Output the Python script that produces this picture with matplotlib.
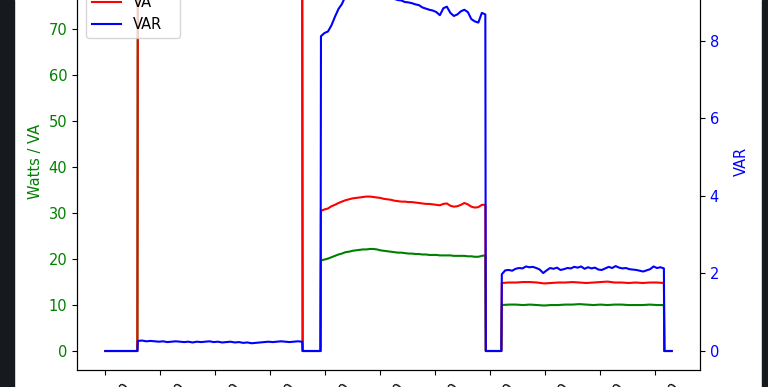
#!/usr/bin/env python
# -*- coding: utf-8 -*-

#...for the plotting.
import matplotlib.pyplot as plt
import matplotlib.dates as mdates
from matplotlib.patches import Rectangle
from matplotlib.ticker import MultipleLocator

#...for the MATH.
import numpy as np

plt.rcParams['font.size'] = 10.5

## Start of the logging run.
t_start = np.datetime64('2024-01-01T14:00:00')

## Segment boundaries (seconds since the start of the run).
seg_starts = [0, 71, 431, 471, 831, 866, 1221]
seg_stops = [70, 430, 470, 830, 865, 1220, 1237]

## Readings with nothing plugged in.
idle = [0.0, 0.0]

## Load A (first device) - Watts and VA off the top of the plot.
load_a_watts = [80.1, 80.6, 80.3, 80.8]
load_a_va = [82.4, 82.7, 82.5, 82.6]
load_a_var = [0.26, 0.27, 0.25, 0.26, 0.25, 0.24, 0.25, 0.23, 0.24, 0.25,
              0.24, 0.23, 0.24, 0.22, 0.24, 0.23, 0.24, 0.25, 0.23, 0.24,
              0.22, 0.23, 0.24, 0.22, 0.23, 0.21, 0.22, 0.20, 0.21, 0.22,
              0.23, 0.24, 0.23, 0.24, 0.25, 0.24, 0.23, 0.24, 0.25, 0.24]

## Load B (second device).
load_b_watts = [19.7, 19.9, 20.1, 20.4, 20.7, 21.0, 21.2, 21.5, 21.6, 21.8,
                21.9, 22.0, 22.1, 22.1, 22.2, 22.2, 22.1, 21.9, 21.8, 21.7,
                21.6, 21.5, 21.4, 21.4, 21.3, 21.2, 21.2, 21.1, 21.1, 21.0,
                21.0, 20.9, 20.9, 20.9, 20.8, 20.8, 20.8, 20.8, 20.7, 20.7,
                20.7, 20.7, 20.6, 20.6, 20.5, 20.5, 20.7, 20.8]
load_b_va = [30.5, 30.8, 31.0, 31.5, 31.8, 32.2, 32.5, 32.8, 33.0, 33.2,
             33.3, 33.4, 33.5, 33.6, 33.6, 33.5, 33.4, 33.3, 33.1, 33.0,
             32.9, 32.7, 32.6, 32.5, 32.5, 32.4, 32.4, 32.3, 32.2, 32.1,
             32.0, 32.0, 31.9, 31.8, 31.7, 32.0, 32.1, 31.6, 31.4, 31.5,
             31.8, 32.2, 31.9, 31.4, 31.2, 31.3, 31.8, 31.8]
load_b_var = [8.12, 8.20, 8.24, 8.40, 8.62, 8.82, 8.95, 9.15, 9.30, 9.42,
              9.50, 9.60, 9.68, 9.75, 9.80, 9.74, 9.60, 9.45, 9.30, 9.20,
              9.12, 9.08, 9.05, 9.04, 9.00, 8.99, 8.97, 8.94, 8.92, 8.86,
              8.83, 8.80, 8.78, 8.74, 8.66, 8.84, 8.88, 8.72, 8.64, 8.68,
              8.76, 8.80, 8.74, 8.56, 8.50, 8.47, 8.72, 8.68]

## Load C (third device).
load_c_watts = [10.0, 10.1, 10.1, 10.0, 10.1, 10.0, 9.9, 10.0, 10.0, 10.1,
                10.1, 10.2, 10.1, 10.0, 10.1, 10.0, 10.1, 10.1, 10.0, 10.0,
                10.0, 10.1, 10.0, 10.0]
load_c_va = [14.8, 14.9, 14.9, 15.0, 15.0, 14.9, 14.7, 14.8, 14.9, 14.9,
             15.0, 14.9, 14.8, 14.9, 15.0, 15.1, 14.9, 14.9, 14.8, 14.9,
             14.8, 14.9, 14.9, 14.8]
load_c_var = [1.98, 2.08, 2.09, 2.07, 2.12, 2.14, 2.13, 2.18, 2.16, 2.17,
              2.14, 2.10, 2.01, 2.08, 2.14, 2.12, 2.15, 2.09, 2.11, 2.14,
              2.13, 2.17, 2.15, 2.18, 2.12, 2.16, 2.13, 2.15, 2.10, 2.09,
              2.13, 2.17, 2.14, 2.19, 2.15, 2.13, 2.14, 2.11, 2.10, 2.09,
              2.07, 2.05, 2.08, 2.11, 2.18, 2.14, 2.16, 2.13]


def build_series(segments):
    """Join the segments up into one time series."""
    t, v = [], []
    for start, stop, vals in zip(seg_starts, seg_stops, segments):
        t.extend(np.linspace(start, stop, len(vals)))
        v.extend(vals)
    times = t_start + (np.array(t) * 1000).astype('timedelta64[ms]')
    return times, np.array(v)


t_w, watts = build_series([idle, load_a_watts, idle, load_b_watts, idle, load_c_watts, idle])
t_va, va = build_series([idle, load_a_va, idle, load_b_va, idle, load_c_va, idle])
t_var, var = build_series([idle, load_a_var, idle, load_b_var, idle, load_c_var, idle])

## The figure.
fig = plt.figure(figsize=(7.68, 3.87), dpi=100, facecolor='w')

## The plot axes (the top runs off the screenshot).
ax = fig.add_axes([77/768., 17/387., 623/768., 418/387.])
ax2 = ax.twinx()

l1, = ax.plot(t_w, watts, color='g', lw=1.5, label='Watts')
l2, = ax.plot(t_va, va, color='r', lw=1.5, label='VA')
l3, = ax2.plot(t_var, var, color='b', lw=1.5, label='VAR')

ax.set_ylim(-4.13, 86.8)
ax2.set_ylim(-0.49, 10.29)
ax.yaxis.set_major_locator(MultipleLocator(10))
ax2.yaxis.set_major_locator(MultipleLocator(2))

ax.set_ylabel('Watts / VA', color='g')
ax2.set_ylabel('VAR', color='b')
ax.tick_params(axis='y', labelcolor='g')
ax2.tick_params(axis='y', labelcolor='b')

# Time axis.
ax.xaxis.set_major_locator(mdates.MinuteLocator(byminute=range(0, 60, 2)))
ax.xaxis.set_major_formatter(mdates.DateFormatter('%H:%M:%S'))
plt.setp(ax.get_xticklabels(), rotation=45)

# Legend for all three lines.
ax.legend([l1, l2, l3], ['Watts', 'VA', 'VAR'], loc='lower left',
          bbox_to_anchor=(0.0144, 0.794), borderaxespad=0.0)

# The dark window edges round the screenshot.
fig.patches.append(Rectangle((0, 0), 14/768., 1, transform=fig.transFigure,
                             color='#16191d', zorder=10))
fig.patches.append(Rectangle((762/768., 0), 6/768., 1, transform=fig.transFigure,
                             color='#16191d', zorder=10))

fig.savefig('out.png', dpi=100)
